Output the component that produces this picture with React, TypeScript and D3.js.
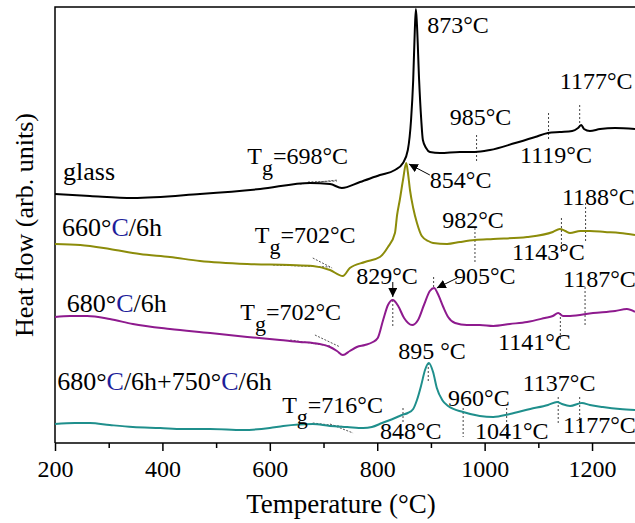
import React, { useEffect, useRef } from 'react'
import * as d3 from 'd3'

// DSC traces: [temperature (°C), heat flow (arb. units)]
const glass = [
  [200, 24.9], [265, 24.7], [345, 24.5], [470, 24.9], [582, 25.4], [675, 26.0],
  [712, 25.9], [734, 25.5], [768, 26.1], [805, 26.8], [833, 27.3], [848, 28.0],
  [857, 29.3], [863, 32.3], [867, 36.3], [870, 41.3], [872, 43.4], [874, 41.8],
  [878, 36.3], [882, 32.3], [885, 30.3], [891, 29.5], [898, 29.1], [917, 29.0],
  [954, 29.1], [982, 29.1], [1010, 29.3], [1057, 30.0], [1094, 30.6], [1118, 31.0],
  [1140, 31.1], [1163, 31.2], [1174, 31.5], [1180, 31.8], [1185, 31.4], [1196, 31.2],
  [1215, 31.4], [1243, 31.5], [1280, 31.4],
]
const t660 = [
  [200, 19.9], [247, 19.8], [302, 19.4], [358, 18.9], [414, 18.6], [470, 18.2],
  [558, 17.9], [638, 17.8], [680, 17.7], [712, 17.3], [736, 16.7], [749, 17.5],
  [777, 18.1], [805, 18.6], [820, 19.6], [833, 21.0], [837, 22.8], [842, 24.3],
  [848, 26.3], [854, 28.0], [857, 27.1], [861, 25.3], [867, 23.5], [874, 22.0],
  [883, 20.7], [895, 20.2], [904, 20.0], [930, 19.9], [954, 20.1], [982, 20.3],
  [1016, 20.4], [1079, 20.6], [1127, 21.1], [1140, 21.4], [1150, 21.2], [1159, 21.0],
  [1178, 21.2], [1196, 21.2], [1224, 21.1], [1252, 21.0], [1280, 20.8],
]
const t680 = [
  [200, 12.6], [228, 12.7], [260, 12.7], [302, 12.4], [345, 11.9], [414, 11.4],
  [489, 11.0], [558, 10.6], [619, 10.3], [656, 10.1], [680, 10.0], [712, 9.6],
  [725, 9.2], [736, 8.8], [749, 9.2], [762, 9.6], [777, 9.8], [792, 10.1],
  [801, 10.5], [811, 12.3], [820, 13.8], [829, 14.3], [839, 13.7], [850, 12.5],
  [865, 11.8], [876, 12.3], [887, 13.8], [898, 15.2], [906, 15.5], [913, 14.9],
  [923, 13.6], [932, 12.6], [945, 12.0], [967, 11.8], [991, 11.8], [1016, 11.7],
  [1047, 11.9], [1079, 12.1], [1112, 12.5], [1127, 12.7], [1137, 13.0], [1146, 12.7],
  [1159, 12.7], [1202, 13.0], [1243, 13.2], [1265, 13.4], [1280, 13.1],
]
const t680750 = [
  [200, 1.9], [237, 2.0], [265, 2.0], [302, 1.8], [345, 1.6], [396, 1.5],
  [438, 1.4], [489, 1.4], [550, 1.3], [600, 1.5], [625, 1.7], [680, 1.9],
  [712, 1.7], [744, 1.6], [774, 1.5], [790, 1.6], [809, 2.0], [833, 2.5],
  [846, 2.8], [857, 3.0], [867, 3.4], [874, 4.3], [882, 5.8], [889, 7.3],
  [896, 8.0], [904, 7.1], [911, 5.5], [921, 4.3], [932, 3.7], [960, 3.1],
  [991, 2.7], [1016, 2.6], [1047, 2.9], [1085, 3.4], [1118, 3.8], [1135, 4.1],
  [1144, 3.9], [1159, 3.7], [1181, 4.0], [1196, 3.8], [1220, 3.6], [1252, 3.4],
  [1280, 3.3],
]

const majorTicks = [200, 400, 600, 800, 1000, 1200]
const minorTicks = [300, 500, 700, 900, 1100]

// sample names split so the "C" can be coloured, anchor T, anchor heat flow
const sampleLabels = [
  { parts: ['glass'], t: 215, v: 26.3 },
  { parts: ['660°', 'C', '/6h'], t: 213, v: 20.7 },
  { parts: ['680°', 'C', '/6h'], t: 222, v: 13.1 },
  { parts: ['680°', 'C', '/6h+750°', 'C', '/6h'], t: 204, v: 5.3 },
]

// glass transition labels: value, anchor T, anchor heat flow
const tgLabels = [
  ['698', 558, 27.9],
  ['702', 572, 20.0],
  ['702', 545, 12.3],
  ['716', 623, 3.0],
]

// peak / onset labels: text, anchor T, anchor heat flow
const peakLabels = [
  ['873°C', 893, 41.0], ['1177°C', 1140, 35.4], ['985°C', 935, 31.8],
  ['1119°C', 1066, 28.0], ['854°C', 898, 25.5], ['1188°C', 1144, 23.8],
  ['982°C', 921, 21.5], ['1143°C', 1051, 18.3], ['829°C', 761, 15.9],
  ['905°C', 943, 15.9], ['1187°C', 1146, 15.6], ['1141°C', 1025, 9.3],
  ['895 °C', 839, 8.4], ['960°C', 932, 3.7], ['1137°C', 1071, 5.2],
  ['848°C', 805, 0.4], ['1041°C', 982, 0.4], ['1177°C', 1146, 1.0],
]

// dotted vertical markers: T, top, bottom (heat flow)
const dropLines = [
  [985, 30.8, 28.1], [1119, 33.0, 30.3], [1177, 33.8, 31.7],
  [982, 21.5, 18.1], [1143, 22.5, 19.0], [1188, 24.0, 20.1],
  [829, 14.3, 11.6], [905, 16.6, 15.5], [1141, 13.0, 10.3], [1187, 15.6, 11.8],
  [895, 8.0, 6.1], [848, 3.5, 2.0], [960, 3.5, 0.6], [1041, 3.5, 0.3],
  [1137, 4.6, 1.8], [1177, 4.6, 1.6],
]

// Tg tangent construction lines: T1, v1, T2, v2
const tangents = [
  [656, 25.9, 727, 26.3], [671, 26.1, 725, 26.2],
  [606, 17.8, 712, 17.6], [680, 18.5, 716, 17.5],
  [684, 10.8, 731, 9.6], [638, 10.3, 712, 9.7],
  [680, 2.0, 744, 1.6], [712, 1.9, 755, 1.0],
]

// arrows: from (T, v) to (T, v)
const arrows = [
  [898, 26.8, 859, 27.9],
  [829, 16.1, 829, 14.6],
  [949, 16.5, 911, 15.5],
]

const font = '"Liberation Serif", "Times New Roman", serif'

export default function App() {
  const svgRef = useRef<SVGSVGElement>(null)

  useEffect(() => {
    const svg = d3.select(svgRef.current)
    svg.selectAll('*').remove()

    const x = d3.scaleLinear().domain([200, 1280]).range([55, 635])
    const y = d3.scaleLinear().domain([0, 43.6]).range([443, 7])

    svg
      .append('defs')
      .append('marker')
      .attr('id', 'arrowhead')
      .attr('viewBox', '0 0 10 10')
      .attr('refX', 10)
      .attr('refY', 5)
      .attr('markerWidth', 9)
      .attr('markerHeight', 9)
      .attr('markerUnits', 'userSpaceOnUse')
      .attr('orient', 'auto')
      .append('path')
      .attr('d', 'M0,0 L10,5 L0,10 z')
      .attr('fill', '#000')

    // frame (right side is cut off in the original)
    svg
      .append('path')
      .attr('d', `M${x(200)},${y(0)} H${x(1280)} M${x(200)},${y(0)} V${y(43.6)} H${x(1280)}`)
      .attr('fill', 'none')
      .attr('stroke', '#000')
      .attr('stroke-width', 1.5)

    const gx = svg
      .append('g')
      .attr('transform', `translate(0,${y(0)})`)
      .call(d3.axisBottom(x).tickValues(majorTicks).tickSize(8).tickPadding(9).tickFormat(d3.format('d')))
    gx.select('.domain').remove()
    gx.selectAll('line').attr('stroke-width', 1.5)
    gx.selectAll('text').attr('font-size', 24).attr('font-family', font).attr('fill', '#000')

    const gm = svg
      .append('g')
      .attr('transform', `translate(0,${y(0)})`)
      .call(d3.axisBottom(x).tickValues(minorTicks).tickSize(5).tickFormat(() => ''))
    gm.select('.domain').remove()
    gm.selectAll('line').attr('stroke-width', 1.5)

    svg
      .append('text')
      .attr('x', 341)
      .attr('y', 513)
      .attr('text-anchor', 'middle')
      .attr('font-family', font)
      .attr('font-size', 27)
      .text('Temperature (°C)')

    svg
      .append('text')
      .attr('transform', 'translate(33,225) rotate(-90)')
      .attr('text-anchor', 'middle')
      .attr('font-family', font)
      .attr('font-size', 26)
      .text('Heat flow (arb. units)')

    // construction lines
    svg
      .selectAll('.tangent')
      .data(tangents)
      .enter()
      .append('line')
      .attr('x1', (d) => x(d[0]))
      .attr('y1', (d) => y(d[1]))
      .attr('x2', (d) => x(d[2]))
      .attr('y2', (d) => y(d[3]))
      .attr('stroke', '#555')
      .attr('stroke-width', 1)
      .attr('stroke-dasharray', '2,1.5')

    svg
      .selectAll('.drop')
      .data(dropLines)
      .enter()
      .append('line')
      .attr('x1', (d) => x(d[0]))
      .attr('x2', (d) => x(d[0]))
      .attr('y1', (d) => y(d[1]))
      .attr('y2', (d) => y(d[2]))
      .attr('stroke', '#444')
      .attr('stroke-width', 1)
      .attr('stroke-dasharray', '2,2')

    const line = d3
      .line<number[]>()
      .x((d) => x(d[0]))
      .y((d) => y(d[1]))
      .curve(d3.curveMonotoneX)

    const series = [
      { data: glass, color: '#000000' },
      { data: t660, color: '#8c8c0a' },
      { data: t680, color: '#8e1a8e' },
      { data: t680750, color: '#1f8f8c' },
    ]
    series.forEach((s) => {
      svg
        .append('path')
        .attr('d', line(s.data))
        .attr('fill', 'none')
        .attr('stroke', s.color)
        .attr('stroke-width', 2)
        .attr('stroke-linejoin', 'round')
    })

    svg
      .selectAll('.arrow')
      .data(arrows)
      .enter()
      .append('line')
      .attr('x1', (d) => x(d[0]))
      .attr('y1', (d) => y(d[1]))
      .attr('x2', (d) => x(d[2]))
      .attr('y2', (d) => y(d[3]))
      .attr('stroke', '#000')
      .attr('stroke-width', 1)
      .attr('marker-end', 'url(#arrowhead)')

    // labels
    sampleLabels.forEach((l) => {
      const t = svg
        .append('text')
        .attr('x', x(l.t))
        .attr('y', y(l.v))
        .attr('font-family', font)
        .attr('font-size', 26)
      l.parts.forEach((p) => {
        t.append('tspan')
          .attr('fill', p === 'C' ? '#1e1e9a' : '#000')
          .text(p)
      })
    })

    tgLabels.forEach(([val, t, v]) => {
      const txt = svg
        .append('text')
        .attr('x', x(t as number))
        .attr('y', y(v as number))
        .attr('font-family', font)
        .attr('font-size', 24)
      txt.append('tspan').text('T')
      txt.append('tspan').attr('dy', 11).attr('font-size', 22).text('g')
      txt.append('tspan').attr('dy', -11).text(`=${val}°C`)
    })

    svg
      .selectAll('.peak')
      .data(peakLabels)
      .enter()
      .append('text')
      .attr('x', (d) => x(d[1] as number))
      .attr('y', (d) => y(d[2] as number))
      .attr('font-family', font)
      .attr('font-size', 24)
      .text((d) => d[0] as string)
  }, [])

  return (
    <svg
      ref={svgRef}
      width={635}
      height={523}
      style={{ position: 'absolute', left: 0, top: 0, background: '#fff' }}
    />
  )
}
